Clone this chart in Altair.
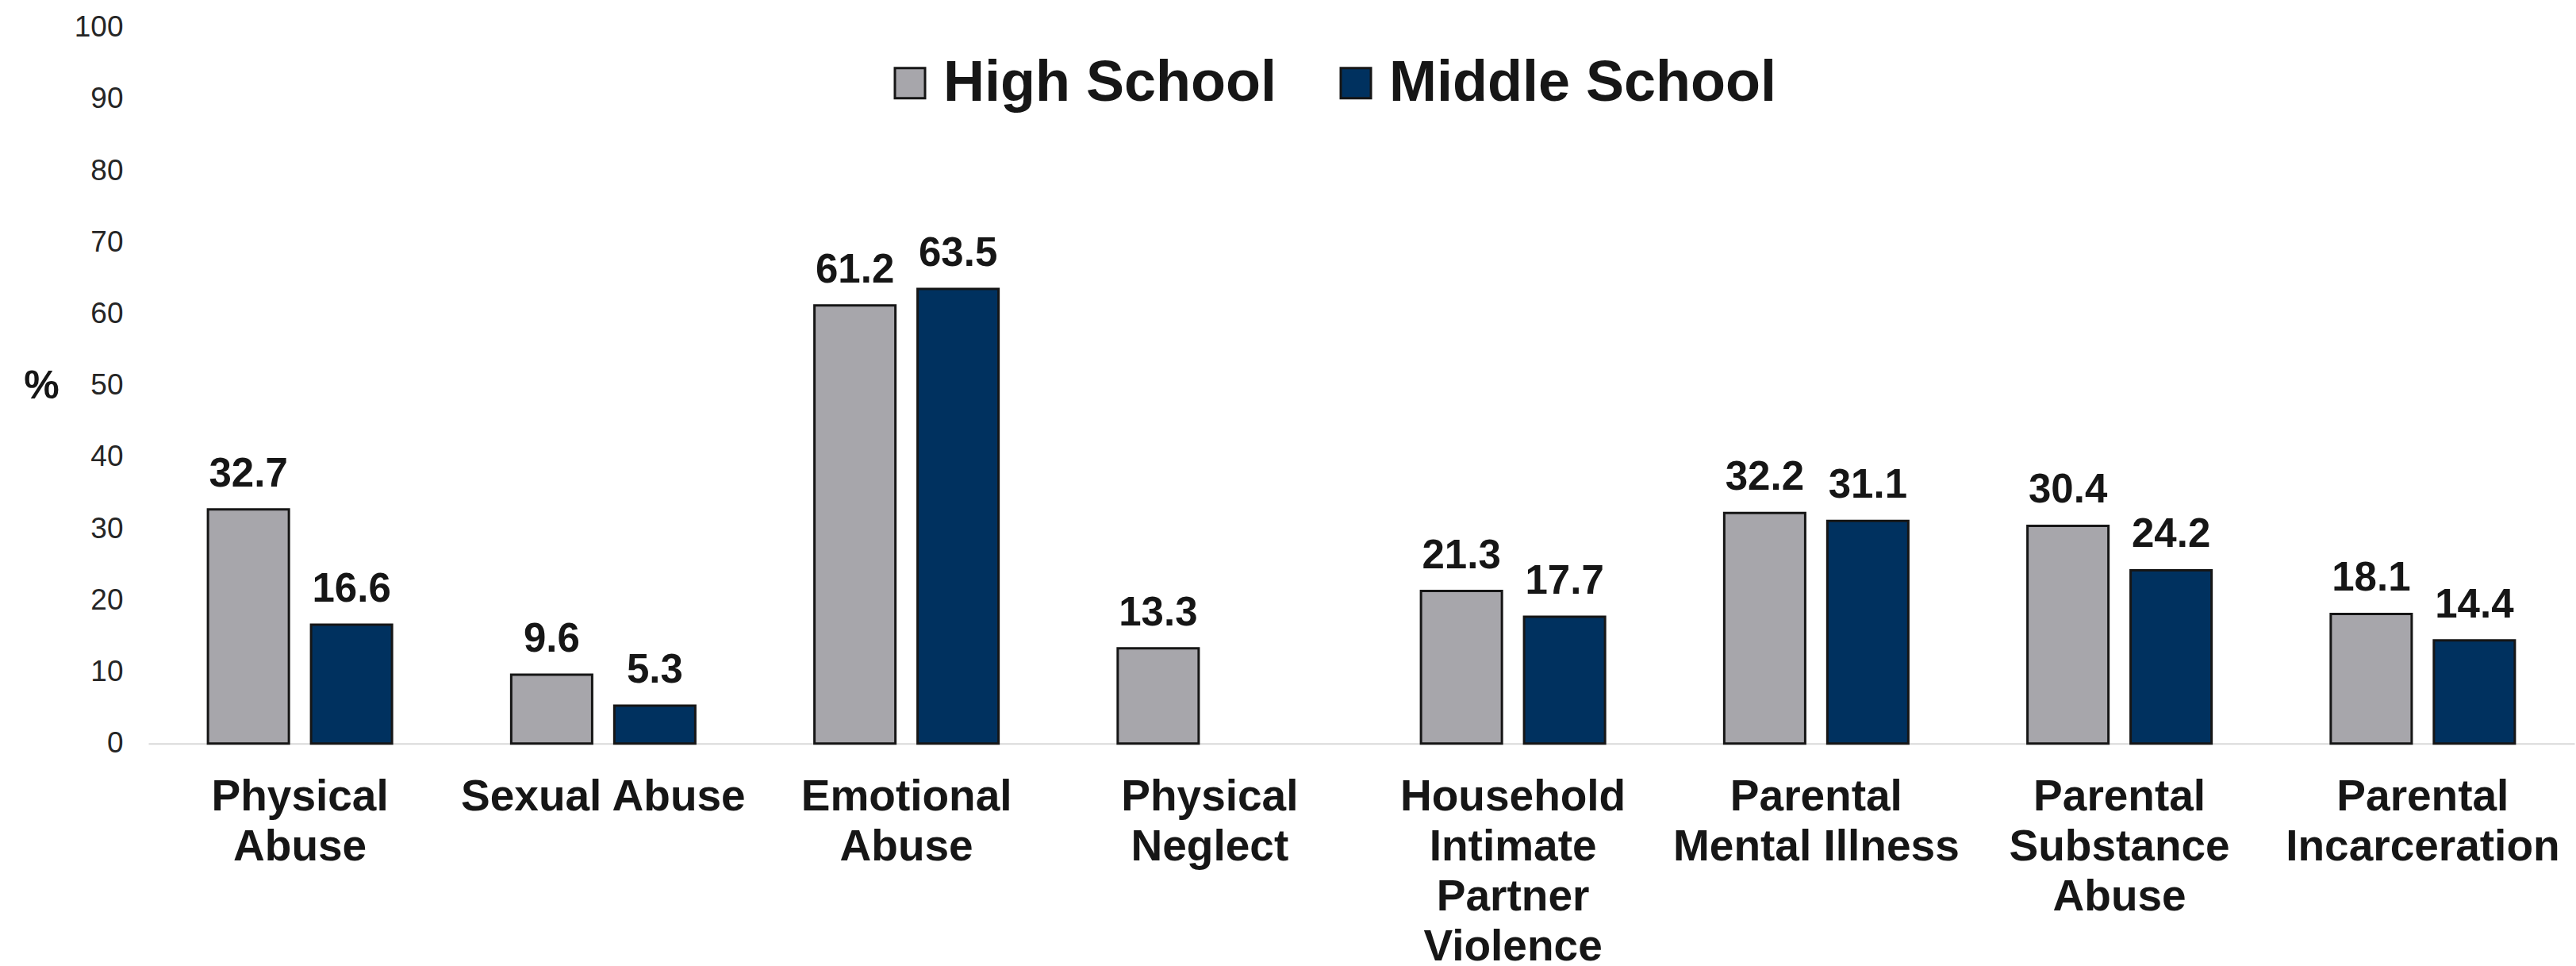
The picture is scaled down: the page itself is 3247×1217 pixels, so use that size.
import altair as alt
import pandas as pd

categories = [
    "Physical Abuse", "Sexual Abuse", "Emotional Abuse", "Physical Neglect",
    "Household Intimate Partner Violence", "Parental Mental Illness",
    "Parental Substance Abuse", "Parental Incarceration",
]
category_lines = [
    "Physical|Abuse", "Sexual Abuse", "Emotional|Abuse", "Physical|Neglect",
    "Household|Intimate|Partner|Violence", "Parental|Mental Illness",
    "Parental|Substance|Abuse", "Parental|Incarceration",
]
series = ["High School", "Middle School"]
high_school = [32.7, 9.6, 61.2, 13.3, 21.3, 32.2, 30.4, 18.1]
middle_school = [16.6, 5.3, 63.5, None, 17.7, 31.1, 24.2, 14.4]
colors = ["#A7A6AB", "#00315F"]
y_ticks = [0, 10, 20, 30, 40, 50, 60, 70, 80, 90, 100]

rows = []
for c, hs, ms in zip(categories, high_school, middle_school):
    rows.append({"Category": c, "School": series[0], "Value": hs})
    if ms is not None:
        rows.append({"Category": c, "School": series[1], "Value": ms})
df = pd.DataFrame(rows)

label_map = {c: l for c, l in zip(categories, category_lines)}
label_expr = "split({" + ", ".join(f"'{c}': '{l}'" for c, l in label_map.items()) + "}[datum.label], '|')"

W, H = 3058, 902

x = alt.X(
    "Category:N",
    sort=categories,
    scale=alt.Scale(paddingInner=0.393, paddingOuter=0.1965),
    axis=alt.Axis(
        title=None,
        labelAngle=0,
        labelExpr=label_expr,
        labelFont="Liberation Sans",
        labelFontWeight="bold",
        labelFontSize=55,
        labelColor="#161616",
        labelLineHeight=63,
        labelPadding=41,
        labelLimit=2000,
        ticks=False,
        tickSize=0,
        domainColor="#D9D9D9",
        domainWidth=2,
        grid=False,
    ),
)
xo = alt.XOffset("School:N", sort=series, scale=alt.Scale(paddingInner=0.215, paddingOuter=0))
y = alt.Y(
    "Value:Q",
    scale=alt.Scale(domain=[0, 100], nice=False),
    axis=alt.Axis(
        values=y_ticks,
        title="%",
        titleAngle=0,
        titleX=-135,
        titleY=452,
        titleAlign="center",
        titleBaseline="middle",
        titleFont="Liberation Sans",
        titleFontWeight="bold",
        titleFontSize=50,
        titleColor="#161616",
        labelFont="'Liberation Sans Narrow', 'Arial Narrow', 'Liberation Sans', sans-serif",
        labelFontSize=37,
        labelColor="#262626",
        labelPadding=32,
        ticks=False,
        tickSize=0,
        domain=False,
        grid=False,
    ),
)
color = alt.Color(
    "School:N",
    sort=series,
    scale=alt.Scale(domain=series, range=colors),
    legend=alt.Legend(
        title=None,
        orient="none",
        direction="horizontal",
        legendX=924,
        legendY=34,
        symbolType="square",
        symbolSize=1444,
        symbolStrokeColor="#161616",
        symbolStrokeWidth=3,
        symbolOpacity=1,
        labelFont="Liberation Sans",
        labelFontWeight="bold",
        labelFontSize=72,
        labelColor="#161616",
        labelOffset=6,
        labelLimit=1000,
        columnPadding=64,
        padding=0,
    ),
)

bars = alt.Chart(df).mark_bar(stroke="#161616", strokeWidth=3).encode(
    x=x, xOffset=xo, y=y, color=color
)
labels = alt.Chart(df).mark_text(
    font="Liberation Sans", fontWeight="bold", fontSize=51, color="#161616",
    baseline="alphabetic", dy=-29,
).encode(
    x=alt.X("Category:N", sort=categories),
    xOffset=alt.XOffset("School:N", sort=series),
    y="Value:Q",
    text=alt.Text("Value:Q", format=".1f"),
)

chart = (
    alt.layer(bars, labels)
    .properties(
        width=W,
        height=H,
        background="white",
        autosize=alt.AutoSizeParams(type="none"),
        padding={"left": 187, "top": 34.7, "right": 2, "bottom": 280.3},
    )
    .configure_view(stroke="transparent", strokeWidth=0)
)

chart.save("out.html", embed_options={"renderer": "svg", "actions": False})
